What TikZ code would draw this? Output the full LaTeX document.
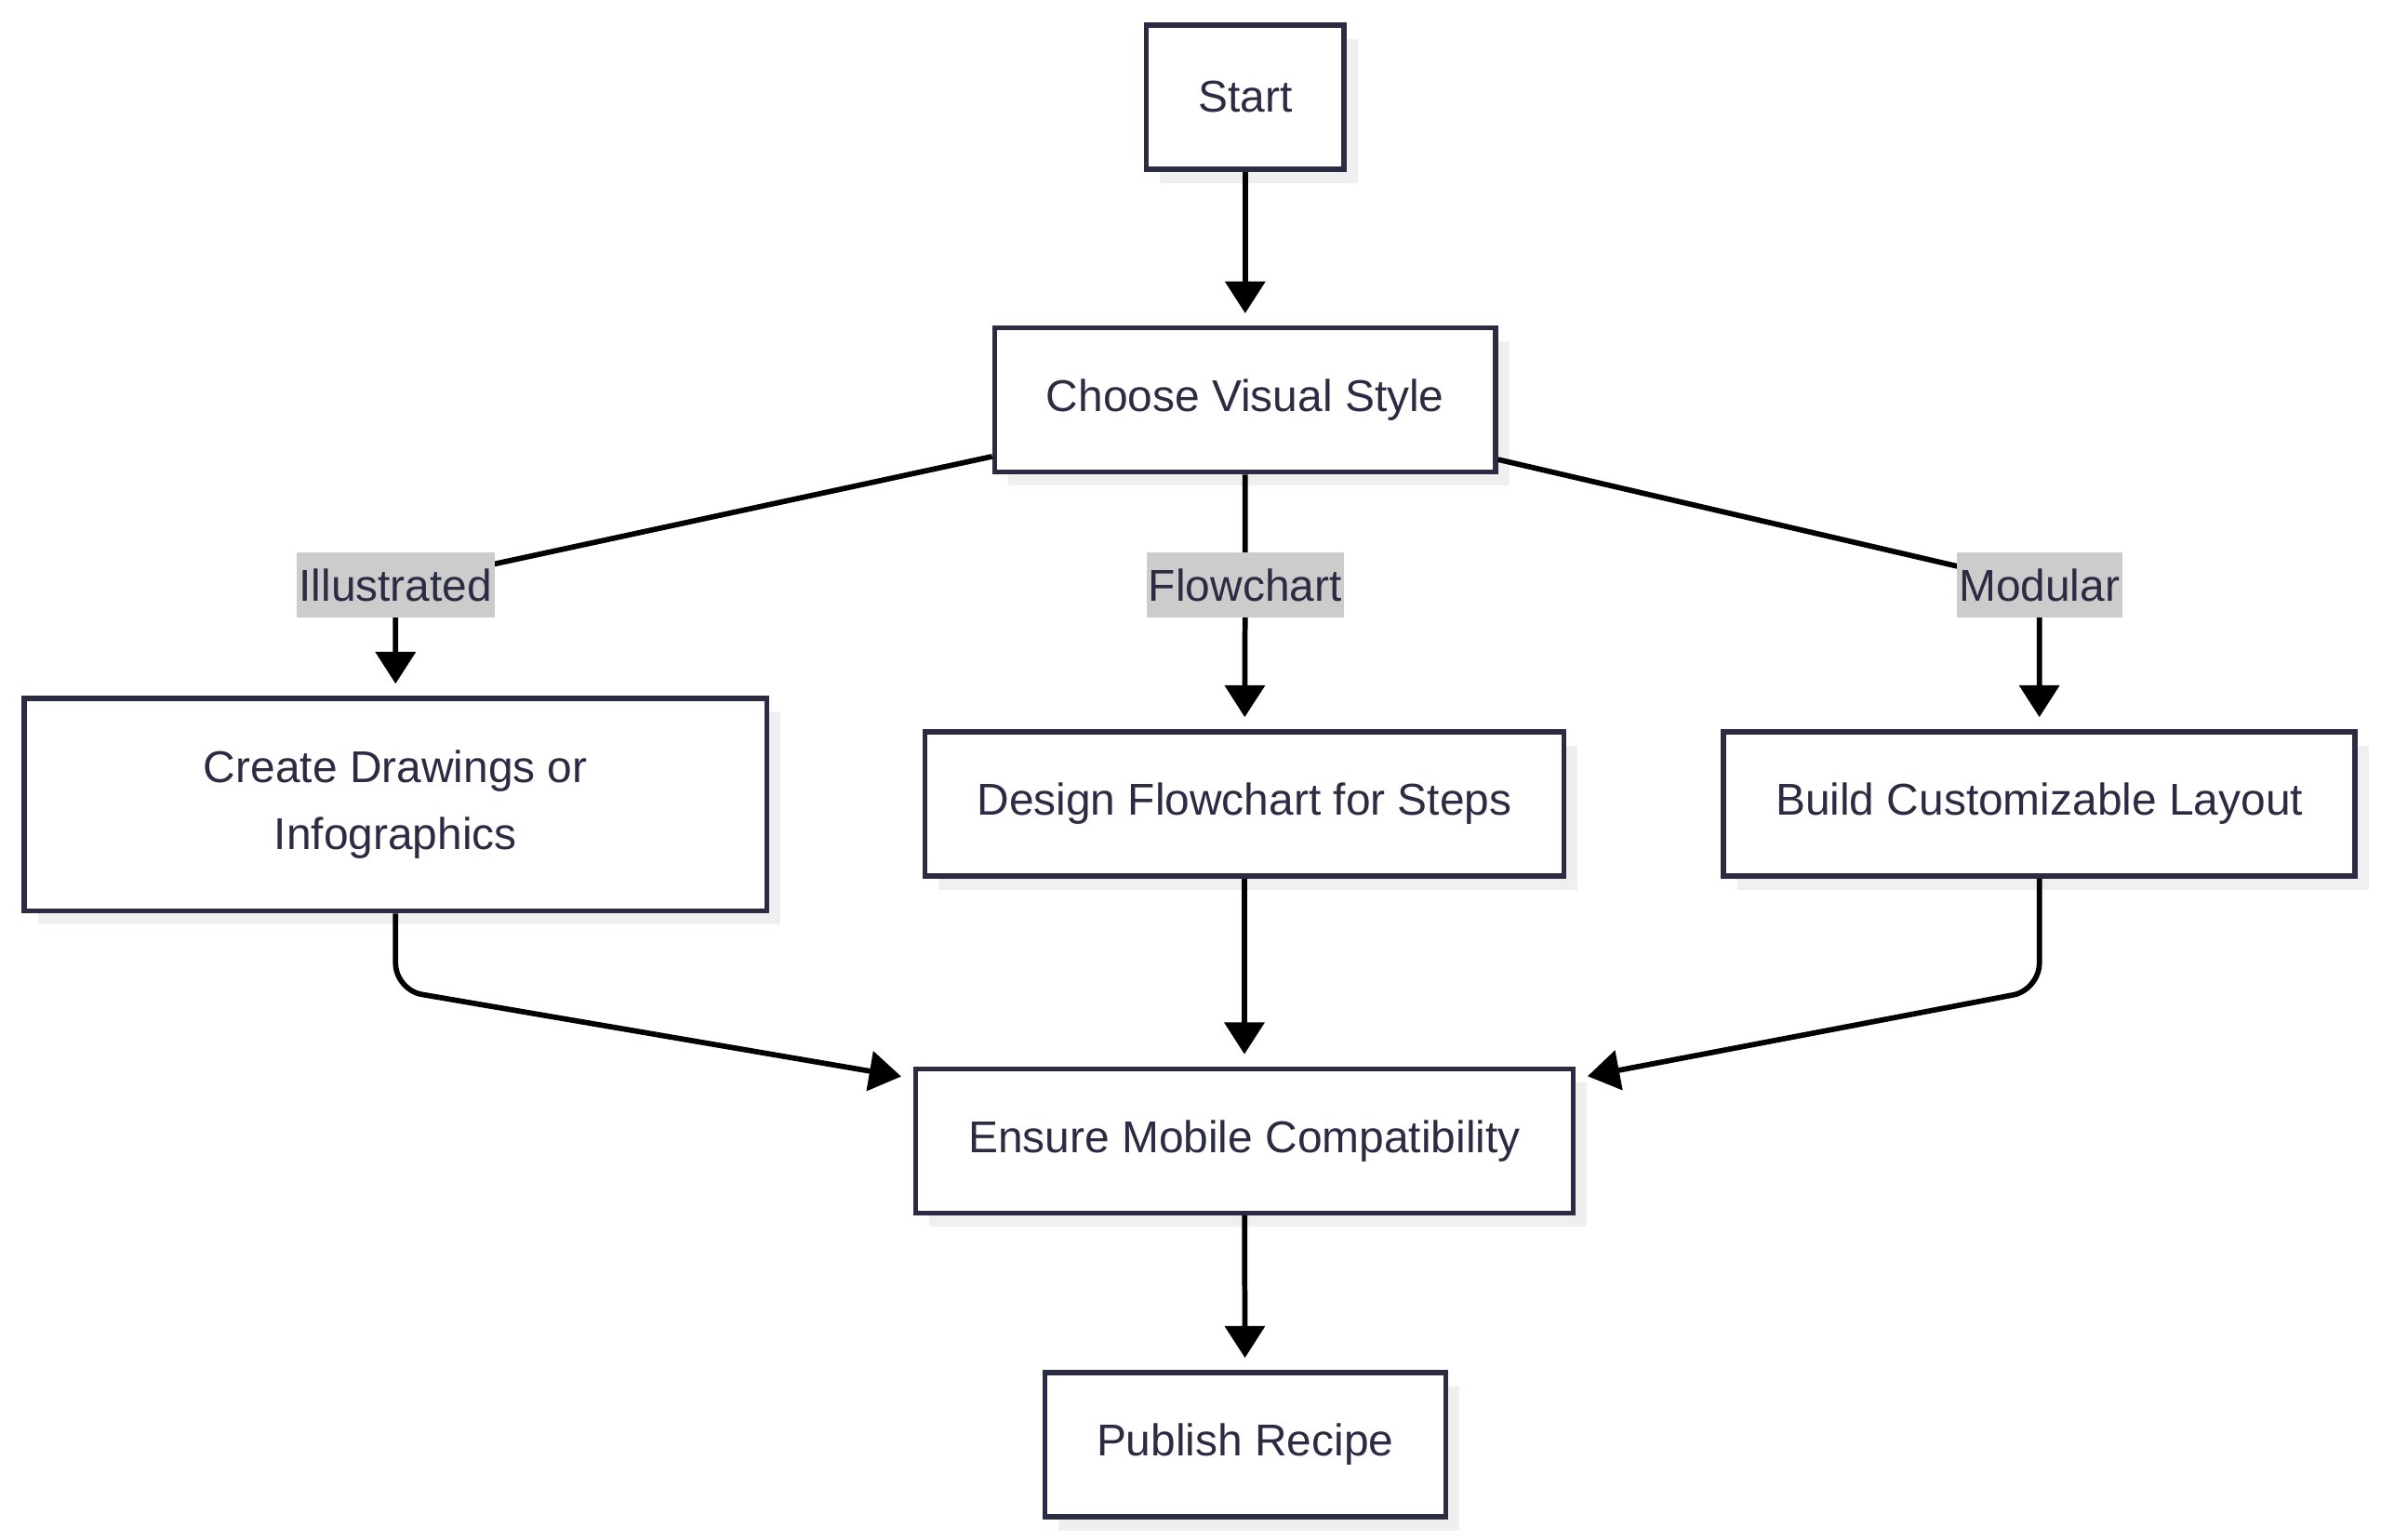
\documentclass[tikz,border=0pt]{standalone}
\usepackage{fontspec}
\setmainfont{Liberation Sans}
\usetikzlibrary{arrows.meta,shadows}
\definecolor{boxline}{HTML}{2B2B44}
\definecolor{shade}{HTML}{EFEFEF}
\definecolor{lblfill}{HTML}{CCCCCC}

\begin{document}
\begin{tikzpicture}[x=0.02cm, y=-0.02cm,
    box/.style={draw=boxline, line width=1.9pt, fill=white, text=boxline,
        minimum height=1.9cm, inner sep=0pt, align=center,
        font=\fontsize{16.7}{25}\selectfont,
        drop shadow={shadow xshift=0.18cm, shadow yshift=-0.18cm, fill=shade, opacity=1}},
    lbl/.style={fill=lblfill, text=boxline, inner xsep=0.03cm, inner ysep=0pt,
        minimum height=0.86cm, font=\fontsize{16.7}{25}\selectfont},
    flow/.style={line width=2pt, -{Triangle[length=0.42cm,width=0.52cm]}, shorten >=0.16cm}]
    \useasboundingbox (0,0) rectangle (1568,1014);
    \node [box, minimum width=2.6cm] (start) at (820,64) {Start};
    \node [box, minimum width=6.6cm] (choose) at (820,263.5) {Choose Visual Style};
    \node [box, minimum width=9.78cm, minimum height=2.8cm] (create) at (260.5,530) {Create Drawings or\\Infographics};
    \node [box, minimum width=8.42cm] (design) at (819.5,529.5) {Design Flowchart for Steps};
    \node [box, minimum width=8.32cm] (build) at (1343,529.5) {Build Customizable Layout};
    \node [box, minimum width=8.66cm] (ensure) at (819.5,751.5) {Ensure Mobile Compatibility};
    \node [box, minimum width=5.28cm] (publish) at (820,951.5) {Publish Recipe};
    \coordinate (kIll) at (260.5,385.5);
    \coordinate (kFlow) at (820,385.5);
    \coordinate (kMod) at (1343,385.5);
    \draw [flow] (start) -- (choose);
    \draw [flow] ([yshift=0.24cm]choose.south west) -- (kIll) node [lbl] (lIll) {Illustrated} -- (create);
    \draw [flow] (choose) -- (kFlow) node [lbl] (lFlow) {Flowchart} -- (design);
    \draw [flow] ([yshift=0.2cm]choose.south east) -- (kMod) node [lbl] (lMod) {Modular} -- (build);
    \draw [flow, rounded corners=0.35cm] (create) -- (create.south |- 0,652) -- ([yshift=-0.16cm]ensure.north west);
    \draw [flow] (design) -- (ensure);
    \draw [flow, rounded corners=0.35cm] (build) -- (build.south |- 0,652) -- ([yshift=-0.16cm]ensure.north east);
    \draw [flow] (ensure) -- (publish);
\end{tikzpicture}
\end{document}
